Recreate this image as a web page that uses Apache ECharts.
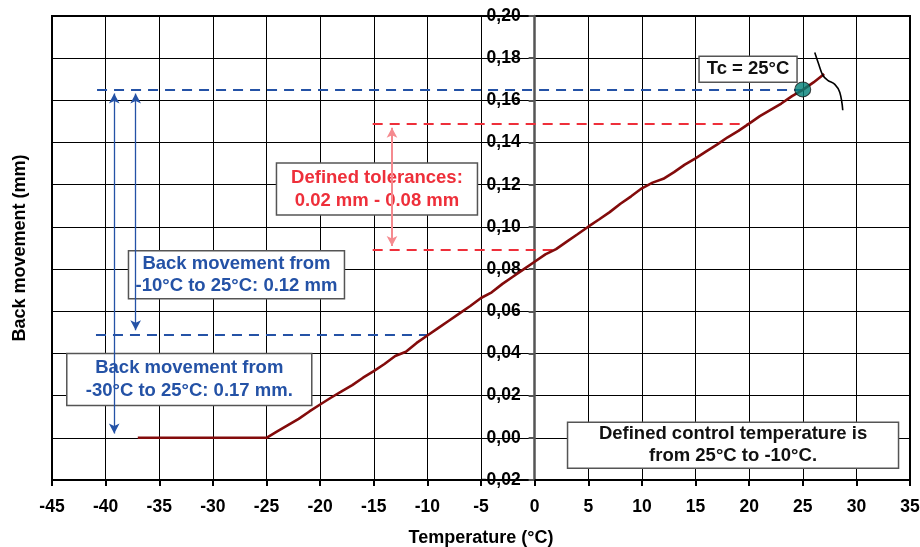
<!DOCTYPE html>
<html><head><meta charset="utf-8">
<script src="https://cdn.jsdelivr.net/npm/echarts@6/dist/echarts.min.js"></script>
<style>html,body{margin:0;padding:0;background:#fff}#c{width:920px;height:547px}</style>
</head><body><div id="c"></div>
<script>
// ---- data ----
const temperature = [-37,-25,-24,-23,-22,-21,-20,-19,-18,-17,-16,-15,-14,-13,-12,-11,-10,-9,-8,-7,-6,-5,-4,-3,-2,-1,0,1,2,3,4,5,6,7,8,9,10,11,12,13,14,15,16,17,18,19,20,21,22,23,24,25,26,27];
const backMovement = [0,0,0.003,0.006,0.009,0.0125,0.0158,0.019,0.022,0.025,0.0285,0.0316,0.035,0.0388,0.0408,0.045,0.0485,0.052,0.0555,0.059,0.0625,0.0663,0.069,0.073,0.0765,0.080,0.0835,0.087,0.0895,0.093,0.0965,0.1001,0.1035,0.107,0.111,0.1145,0.1183,0.121,0.1228,0.126,0.1295,0.1325,0.1358,0.139,0.1425,0.1455,0.149,0.1525,0.1555,0.1585,0.162,0.165,0.1685,0.1725];
const controlPoint = [25, 0.1652];
const tcLabel = 'Tc = 25°C';
const xTickMin = -45, xTickMax = 35, xTickStep = 5;
const yTickMin = -0.02, yTickMax = 0.20, yTickStep = 0.02;
const levelTotal = 0.1652, levelFrom10 = 0.049, tolHigh = 0.149, tolLow = 0.089;
const boxTexts = {
  tol: ['Defined tolerances:', '0.02 mm - 0.08 mm'],
  b10: ['Back movement from', '-10°C to 25°C: 0.12 mm'],
  b30: ['Back movement from', '-30°C to 25°C: 0.17 mm.'],
  ctrl: ['Defined control temperature is', 'from 25°C to -10°C.']
};
const braceX = [26.12, 26.49, 26.87, 27.33, 27.99, 28.45, 28.73];
const braceY = [0.1827, 0.1771, 0.1719, 0.1695, 0.1676, 0.1638, 0.1553];

const FONT = '"Liberation Sans", Arial, sans-serif';
const BLUE = '#2452a6', RED = '#ee2f3a';

const chart = echarts.init(document.getElementById('c'));
const curve = temperature.map((t, i) => [t, backMovement[i]]);
const brace = braceX.map((x, i) => [x, braceY[i]]);
const GRID_LEFT = 52;

const option = {
  animation: false,
  grid: { left: GRID_LEFT, top: 16, right: 10, bottom: 67, show: true, borderColor: '#000', borderWidth: 2,
    containLabel: false, outerBoundsMode: 'none' },
  xAxis: {
    type: 'value', min: xTickMin, max: xTickMax, interval: xTickStep,
    name: 'Temperature (°C)', nameLocation: 'middle', nameGap: 49,
    nameTextStyle: { fontFamily: FONT, fontWeight: 'bold', fontSize: 18, color: '#000' },
    axisLine: { onZero: false, lineStyle: { color: '#000', width: 2 } },
    axisTick: { show: true, length: 6, inside: false, lineStyle: { color: '#000', width: 2 } },
    axisLabel: { fontFamily: FONT, fontWeight: 'bold', fontSize: 17.5, color: '#000', margin: 18 },
    splitLine: { show: true, lineStyle: { color: '#000', width: 1 } }
  },
  yAxis: {
    type: 'value', min: yTickMin, max: yTickMax, interval: yTickStep, position: 'left',
    axisLine: { onZero: false, lineStyle: { color: '#555', width: 2.5 } },
    axisTick: { show: true, length: 6, inside: false, lineStyle: { color: '#555', width: 2 } },
    axisLabel: { fontFamily: FONT, fontWeight: 'bold', fontSize: 17.5, color: '#000', margin: 14,
      formatter: v => v.toFixed(2).replace('.', ',') },
    splitLine: { show: true, lineStyle: { color: '#000', width: 1 } }
  },
  series: [
    { name: 'blueDash', type: 'line', data: [], silent: true,
      markLine: { silent: true, symbol: 'none', animation: false,
        label: { show: false },
        lineStyle: { color: BLUE, type: [10, 7], width: 2 },
        data: [
          [{ coord: [-40.8, levelTotal] }, { coord: [controlPoint[0], levelTotal] }],
          [{ coord: [-40.9, levelFrom10] }, { coord: [-10, levelFrom10] }]
        ] } },
    { name: 'redDash', type: 'line', data: [], silent: true,
      markLine: { silent: true, symbol: 'none', animation: false,
        label: { show: false },
        lineStyle: { color: RED, type: [10, 7], width: 2 },
        data: [
          [{ coord: [-15.1, tolHigh] }, { coord: [20, tolHigh] }],
          [{ coord: [-15.1, tolLow] }, { coord: [1.9, tolLow] }]
        ] } },
    { name: 'blueArrows', type: 'line', data: [], silent: true,
      markLine: { silent: true, symbol: ['arrow', 'arrow'], symbolSize: [8, 10], animation: false,
        label: { show: false },
        lineStyle: { color: BLUE, type: 'solid', width: 1.3 },
        itemStyle: { color: BLUE },
        data: [
          [{ coord: [-39.2, levelTotal - 0.002] }, { coord: [-39.2, 0.002] }],
          [{ coord: [-37.2, levelTotal - 0.002] }, { coord: [-37.2, levelFrom10 + 0.002] }]
        ] } },
    { name: 'redArrow', type: 'line', data: [], silent: true,
      markLine: { silent: true, symbol: ['arrow', 'arrow'], symbolSize: [8, 10], animation: false,
        label: { show: false },
        lineStyle: { color: '#f58a8f', type: 'solid', width: 2 },
        itemStyle: { color: RED },
        data: [
          [{ coord: [-13.3, tolHigh - 0.002] }, { coord: [-13.3, tolLow + 0.002] }]
        ] } },
    { name: 'Back movement', type: 'line', data: curve, showSymbol: false, symbol: 'none',
      lineStyle: { color: '#830b0b', width: 2.6 }, z: 5 },
    { name: 'brace', type: 'line', data: brace, smooth: 0.4, showSymbol: false, symbol: 'none',
      lineStyle: { color: '#000', width: 1.6 }, z: 6 },
    { name: 'Tc', type: 'scatter', data: [controlPoint], symbol: 'circle', symbolSize: [16, 15],
      itemStyle: { color: '#008077', borderColor: '#1a1a1a', borderWidth: 1 }, z: 7 }
  ]
};
chart.setOption(option);

// place the value axis on x = 0, as in the reference
const zeroPx = chart.convertToPixel({ xAxisIndex: 0 }, 0);
chart.setOption({ yAxis: { offset: -(zeroPx - GRID_LEFT) } });

function box(cx, cy, w, h, lines, color, fontSize, lineH) {
  const p = chart.convertToPixel({ gridIndex: 0 }, [cx, cy]);
  return {
    type: 'group', x: p[0], y: p[1], z: 100,
    children: [
      { type: 'rect', shape: { x: -w / 2, y: -h / 2, width: w, height: h },
        style: { fill: '#fff', stroke: '#555', lineWidth: 1.5 } },
      { type: 'text', x: 0, y: 0,
        style: { text: lines.join('\n'), fill: color, font: 'bold ' + fontSize + 'px ' + FONT,
          align: 'center', verticalAlign: 'middle', lineHeight: lineH } }
    ]
  };
}

chart.setOption({
  graphic: [
    box(-14.7, 0.118, 201, 52, boxTexts.tol, RED, 18.5, 23),
    box(-27.8, 0.0773, 216, 48, boxTexts.b10, BLUE, 18.5, 22),
    box(-32.2, 0.0277, 245, 52, boxTexts.b30, BLUE, 18.5, 23),
    box(18.5, -0.0035, 331, 46, boxTexts.ctrl, '#111', 18.5, 22),
    box(19.9, 0.1747, 98, 26, [tcLabel], '#111', 18.5, 20),
    { type: 'text', x: 20, y: 248, rotation: Math.PI / 2, z: 100,
      style: { text: 'Back movement (mm)', fill: '#000', font: 'bold 18px ' + FONT,
        align: 'center', verticalAlign: 'middle' } }
  ]
});
</script>
</body></html>
